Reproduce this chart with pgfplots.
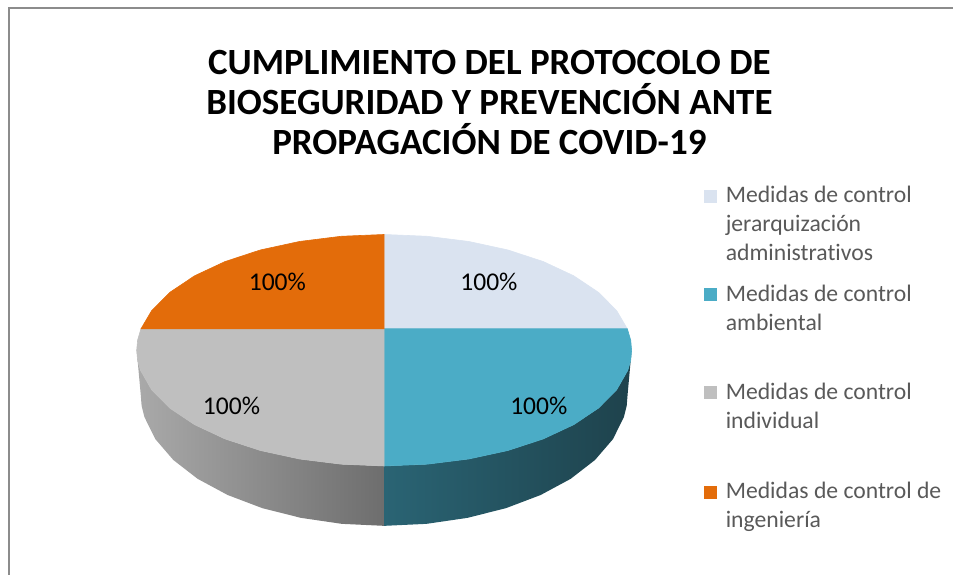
\documentclass[border=0pt]{standalone}
\usepackage{pgfplots}
\pgfplotsset{compat=1.18}
\usepackage{fontspec}
\setmainfont{Carlito}[Ligatures={TeX,NoCommon}]
\definecolor{pieLight}{HTML}{DAE3F0}
\definecolor{pieTeal}{HTML}{4BACC6}
\definecolor{pieGrey}{HTML}{BFBFBF}
\definecolor{pieOrange}{HTML}{E36C0A}
\definecolor{legText}{HTML}{595959}
\definecolor{frameGrey}{HTML}{8C8C8C}

\begin{document}
\begin{tikzpicture}
\begin{axis}[
    scale only axis, width=477bp, height=287.5bp,
    xmin=0, xmax=954, ymin=0, ymax=575, y dir=reverse,
    hide axis, clip=false,
]
% chart frame
\path (axis cs:0,0) rectangle (axis cs:954,575);
\draw[frameGrey, line width=1.1bp] (axis cs:9,576) -- (axis cs:9,8) -- (axis cs:955,8);

% --- side walls (front) ---
\addplot[draw=none, left color=black!30!white!95!black, right color=black!57] coordinates {
  (137,351) (137.9,361.1) (140.8,371.1) (152.0,390.7) (170.2,409.0) (195.0,425.6)
  (225.6,439.9) (261.0,451.5) (300.2,460.0) (341.9,465.2) (385,467) (385,527)
  (342.6,525.0) (301.6,519.0) (263.0,509.3) (228.2,496.1) (198.1,479.9) (173.7,461.0)
  (155.7,440.1) (144.7,417.9) (141.9,406.5) (141,395)
} -- cycle;
\addplot[draw=none, left color={rgb,255:red,42;green,100;blue,116}, right color={rgb,255:red,30;green,66;blue,76}] coordinates {
  (385,467) (428.1,465.2) (469.8,460.0) (509.0,451.5) (544.4,439.9) (575.0,425.6)
  (599.8,409.0) (618.0,390.7) (629.2,371.1) (632.1,361.1) (633,351) (629,395)
  (628.1,406.5) (625.3,417.9) (614.3,440.1) (596.3,461.0) (571.9,479.9) (541.8,496.1)
  (507.0,509.3) (468.4,519.0) (427.4,525.0) (385,527)
} -- cycle;

% --- top face: four equal sectors (100% each) ---
% Medidas de control jerarquizacion administrativos
\addplot[fill=pieLight, draw=pieLight, line width=0.3bp] coordinates {
  (385,329.5) (628.7,329.5) (618.0,311.3) (599.8,293.0) (575.0,276.4) (544.4,262.1)
  (509.0,250.5) (469.8,242.0) (428.1,236.8) (385,235)
} -- cycle;
% Medidas de control ambiental
\addplot[fill=pieTeal, draw=pieTeal, line width=0.3bp] coordinates {
  (385,329.5) (385,467) (428.1,465.2) (469.8,460.0) (509.0,451.5) (544.4,439.9)
  (575.0,425.6) (599.8,409.0) (618.0,390.7) (629.2,371.1) (632.1,361.1) (633,351)
  (632.1,340.9) (628.7,329.5)
} -- cycle;
% Medidas de control individual
\addplot[fill=pieGrey, draw=pieGrey, line width=0.3bp] coordinates {
  (385,329.5) (141.3,329.5) (137.9,340.9) (137,351) (137.9,361.1) (140.8,371.1)
  (152.0,390.7) (170.2,409.0) (195.0,425.6) (225.6,439.9) (261.0,451.5) (300.2,460.0)
  (341.9,465.2) (385,467)
} -- cycle;
% Medidas de control de ingenieria
\addplot[fill=pieOrange, draw=pieOrange, line width=0.3bp] coordinates {
  (385,329.5) (385,235) (341.9,236.8) (300.2,242.0) (261.0,250.5) (225.6,262.1)
  (195.0,276.4) (170.2,293.0) (152.0,311.3) (141.3,329.5)
} -- cycle;

% data labels
\begin{scope}[every node/.style={anchor=base, font=\fontsize{12.85pt}{15pt}\selectfont}]
\node at (axis cs:278,291) {100\%};
\node at (axis cs:490,291) {100\%};
\node at (axis cs:232,415) {100\%};
\node at (axis cs:540,415) {100\%};
\end{scope}

% title
\begin{scope}[every node/.style={anchor=base, font=\fontsize{18.6pt}{20pt}\selectfont\bfseries}]
\node at (axis cs:490.5,75) {CUMPLIMIENTO DEL PROTOCOLO DE};
\node at (axis cs:490.5,115) {BIOSEGURIDAD Y PREVENCIÓN ANTE};
\node at (axis cs:490.5,155) {PROPAGACIÓN DE COVID-19};
\end{scope}

% legend
\fill[pieLight] (axis cs:706,190) rectangle (axis cs:719,203);
\fill[pieTeal] (axis cs:706,289) rectangle (axis cs:719,302);
\fill[pieGrey] (axis cs:706,387) rectangle (axis cs:719,400);
\fill[pieOrange] (axis cs:706,487) rectangle (axis cs:719,500);
\begin{scope}[every node/.style={anchor=base west, inner sep=0pt, text=legText, font=\fontsize{11.9pt}{14.5pt}\selectfont}]
\node at (axis cs:727,203) {Medidas de control};
\node at (axis cs:727,232) {jerarquización};
\node at (axis cs:727,261) {administrativos};
\node at (axis cs:727,302) {Medidas de control};
\node at (axis cs:727,331) {ambiental};
\node at (axis cs:727,400) {Medidas de control};
\node at (axis cs:727,429) {individual};
\node at (axis cs:727,500) {Medidas de control de};
\node at (axis cs:727,529) {ingeniería};
\end{scope}
\end{axis}
\end{tikzpicture}
\end{document}
